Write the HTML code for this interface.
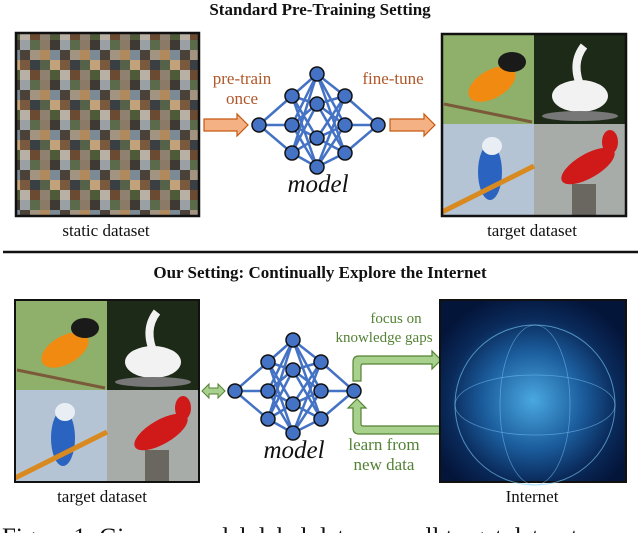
<!DOCTYPE html>
<html><head><meta charset="utf-8"><style>
body{margin:0;background:#fff;width:640px;height:533px;overflow:hidden}
svg{display:block}
text{font-family:"Liberation Serif",serif}
</style></head><body>
<svg width="640" height="533" viewBox="0 0 640 533" xmlns="http://www.w3.org/2000/svg">
<defs>
<pattern id="mos" width="40" height="40" patternUnits="userSpaceOnUse" patternTransform="scale(1)">
<rect width="40" height="40" fill="#6b5e4e"/>
<rect x="0" y="0" width="10" height="10" fill="#8a7a66"/><rect x="10" y="0" width="10" height="10" fill="#3e3a33"/>
<rect x="20" y="0" width="10" height="10" fill="#9aa0a4"/><rect x="30" y="0" width="10" height="10" fill="#5b6a4a"/>
<rect x="0" y="10" width="10" height="10" fill="#b08a5c"/><rect x="10" y="10" width="10" height="10" fill="#7c8a95"/>
<rect x="20" y="10" width="10" height="10" fill="#4a4238"/><rect x="30" y="10" width="10" height="10" fill="#a29480"/>
<rect x="0" y="20" width="10" height="10" fill="#56614a"/><rect x="10" y="20" width="10" height="10" fill="#c2a27a"/>
<rect x="20" y="20" width="10" height="10" fill="#7a5a3e"/><rect x="30" y="20" width="10" height="10" fill="#3a3f44"/>
<rect x="0" y="30" width="10" height="10" fill="#908070"/><rect x="10" y="30" width="10" height="10" fill="#4f5a38"/>
<rect x="20" y="30" width="10" height="10" fill="#b8b0a4"/><rect x="30" y="30" width="10" height="10" fill="#6a4a30"/>
</pattern>
<radialGradient id="glb" cx="0.5" cy="0.55" r="0.6">
<stop offset="0" stop-color="#4aa8e0"/><stop offset="0.45" stop-color="#1b5c9c"/><stop offset="0.75" stop-color="#0a2a5a"/><stop offset="1" stop-color="#04153a"/>
</radialGradient>
<g id="net">
<g stroke="#4472c4" stroke-width="2.5">
<line x1="259" y1="125" x2="292" y2="96"/><line x1="259" y1="125" x2="292" y2="125"/><line x1="259" y1="125" x2="292" y2="153"/>
<line x1="292" y1="96" x2="317" y2="74"/><line x1="292" y1="96" x2="317" y2="104"/><line x1="292" y1="96" x2="317" y2="138"/><line x1="292" y1="96" x2="317" y2="167"/>
<line x1="292" y1="125" x2="317" y2="74"/><line x1="292" y1="125" x2="317" y2="104"/><line x1="292" y1="125" x2="317" y2="138"/><line x1="292" y1="125" x2="317" y2="167"/>
<line x1="292" y1="153" x2="317" y2="74"/><line x1="292" y1="153" x2="317" y2="104"/><line x1="292" y1="153" x2="317" y2="138"/><line x1="292" y1="153" x2="317" y2="167"/>
<line x1="345" y1="96" x2="317" y2="74"/><line x1="345" y1="96" x2="317" y2="104"/><line x1="345" y1="96" x2="317" y2="138"/><line x1="345" y1="96" x2="317" y2="167"/>
<line x1="345" y1="125" x2="317" y2="74"/><line x1="345" y1="125" x2="317" y2="104"/><line x1="345" y1="125" x2="317" y2="138"/><line x1="345" y1="125" x2="317" y2="167"/>
<line x1="345" y1="153" x2="317" y2="74"/><line x1="345" y1="153" x2="317" y2="104"/><line x1="345" y1="153" x2="317" y2="138"/><line x1="345" y1="153" x2="317" y2="167"/>
<line x1="378" y1="125" x2="345" y2="96"/><line x1="378" y1="125" x2="345" y2="125"/><line x1="378" y1="125" x2="345" y2="153"/>
</g>
<g fill="#4472c4" stroke="#111" stroke-width="1.5">
<circle cx="259" cy="125" r="7"/>
<circle cx="292" cy="96" r="7"/><circle cx="292" cy="125" r="7"/><circle cx="292" cy="153" r="7"/>
<circle cx="317" cy="74" r="7"/><circle cx="317" cy="104" r="7"/><circle cx="317" cy="138" r="7"/><circle cx="317" cy="167" r="7"/>
<circle cx="345" cy="96" r="7"/><circle cx="345" cy="125" r="7"/><circle cx="345" cy="153" r="7"/>
<circle cx="378" cy="125" r="7"/>
</g>
<text x="318" y="192" font-size="25" font-style="italic" text-anchor="middle" fill="#111">model</text>
</g>
<g id="birds">
<rect x="0" y="0" width="92" height="90" fill="#8fb06a"/>
<rect x="92" y="0" width="92" height="90" fill="#1e2a18"/>
<rect x="0" y="90" width="92" height="92" fill="#b4c4d4"/>
<rect x="92" y="90" width="92" height="92" fill="#a8aca8"/>
<ellipse cx="50" cy="50" rx="26" ry="14" fill="#f08a10" transform="rotate(-30 50 50)"/>
<ellipse cx="70" cy="28" rx="14" ry="10" fill="#1a1a1a"/>
<line x1="2" y1="70" x2="90" y2="88" stroke="#7a5a3a" stroke-width="3"/>
<ellipse cx="138" cy="62" rx="28" ry="16" fill="#f2f2f2"/>
<path d="M140 55 Q128 30 142 12" stroke="#f2f2f2" stroke-width="8" fill="none"/>
<ellipse cx="138" cy="82" rx="38" ry="5" fill="#777"/>
<ellipse cx="48" cy="138" rx="12" ry="28" fill="#2a64c0"/>
<ellipse cx="50" cy="112" rx="10" ry="9" fill="#e8eef4"/>
<line x1="0" y1="178" x2="92" y2="132" stroke="#d88a20" stroke-width="5"/>
<ellipse cx="146" cy="132" rx="30" ry="12" fill="#d01a1a" transform="rotate(-30 146 132)"/>
<ellipse cx="168" cy="108" rx="8" ry="12" fill="#d01a1a"/>
<rect x="130" y="150" width="24" height="32" fill="#6a6660"/>
</g>
</defs>

<text x="320" y="15" font-size="17" font-weight="bold" text-anchor="middle" fill="#111">Standard Pre-Training Setting</text>
<rect x="16" y="33" width="183" height="183" fill="url(#mos)" stroke="#111" stroke-width="2.5"/>
<text x="106" y="236" font-size="17" text-anchor="middle" fill="#111">static dataset</text>

<text x="242" y="84" font-size="17" text-anchor="middle" fill="#b0572a">pre-train</text>
<text x="242" y="104" font-size="17" text-anchor="middle" fill="#b0572a">once</text>
<text x="393" y="84" font-size="17" text-anchor="middle" fill="#b0572a">fine-tune</text>
<path d="M204 119 H237 V114 L248 125 L237 136 V131 H204 Z" fill="#f4b183" stroke="#c55a11" stroke-width="1.2"/>
<path d="M390 119 H424 V114 L435 125 L424 136 V131 H390 Z" fill="#f4b183" stroke="#c55a11" stroke-width="1.2"/>
<use href="#net"/>

<g transform="translate(442,34)"><use href="#birds"/></g>
<rect x="442" y="34" width="184" height="182" fill="none" stroke="#111" stroke-width="2.5"/>
<text x="532" y="236" font-size="17" text-anchor="middle" fill="#111">target dataset</text>

<line x1="3" y1="252" x2="638" y2="252" stroke="#111" stroke-width="2.5"/>
<text x="320" y="278" font-size="17" font-weight="bold" text-anchor="middle" fill="#111">Our Setting: Continually Explore the Internet</text>

<g transform="translate(15,300)"><use href="#birds"/></g>
<rect x="15" y="300" width="184" height="182" fill="none" stroke="#111" stroke-width="2"/>
<text x="102" y="502" font-size="17" text-anchor="middle" fill="#111">target dataset</text>

<path d="M202 391 L209 384 V388 H218 V384 L225 391 L218 398 V394 H209 V398 Z" fill="#a9d18e" stroke="#548235" stroke-width="1"/>
<g transform="translate(-24,266)"><use href="#net"/></g>

<path d="M353 381 V362 Q353 356 359 356 H432 V351 L441 360 L432 369 V364 H363 Q361 364 361 366 V381 Z" fill="#a9d18e" stroke="#548235" stroke-width="1.2"/>
<path d="M441 426 H363 Q361 426 361 424 V408 H366 L357 399 L348 408 H353 V428 Q353 434 359 434 H441 Z" fill="#a9d18e" stroke="#548235" stroke-width="1.2"/>
<text x="396" y="323" font-size="15" text-anchor="middle" fill="#548235">focus on</text>
<text x="384" y="342" font-size="15" text-anchor="middle" fill="#548235">knowledge gaps</text>
<text x="384" y="450" font-size="17" text-anchor="middle" fill="#548235">learn from</text>
<text x="384" y="470" font-size="17" text-anchor="middle" fill="#548235">new data</text>

<rect x="440" y="300" width="186" height="182" fill="url(#glb)" stroke="#111" stroke-width="2"/>
<circle cx="535" cy="405" r="80" fill="none" stroke="#7fd0ff" stroke-width="1" opacity="0.6"/>
<ellipse cx="535" cy="405" rx="80" ry="30" fill="none" stroke="#7fd0ff" stroke-width="0.8" opacity="0.5"/>
<ellipse cx="535" cy="405" rx="35" ry="80" fill="none" stroke="#7fd0ff" stroke-width="0.8" opacity="0.5"/>
<text x="532" y="502" font-size="17" text-anchor="middle" fill="#111">Internet</text>

<text x="2" y="545" font-size="25" fill="#111">Figure 1: Given a model, label data, a small target dataset, we</text>
</svg>
</body></html>
